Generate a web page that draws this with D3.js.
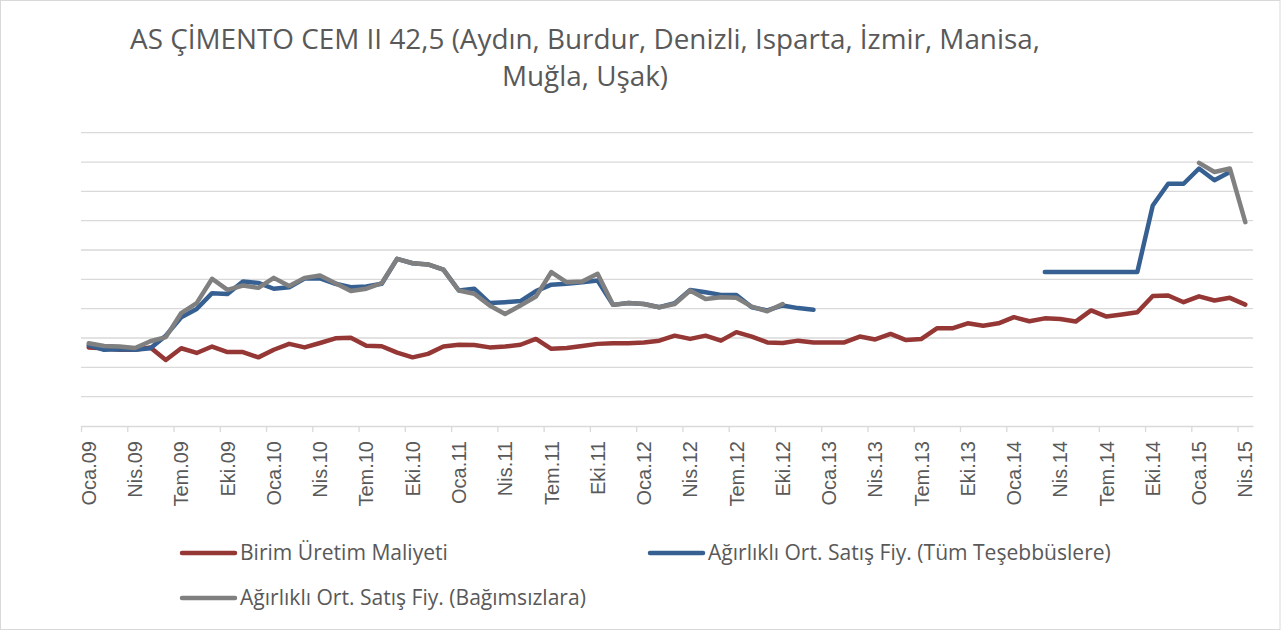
<!DOCTYPE html>
<html><head><meta charset="utf-8">
<script src="https://cdn.jsdelivr.net/npm/d3@7"></script>
<style>body{margin:0;background:#fff}</style>
</head><body><svg id="c" width="1284" height="631"></svg>
<script>
const categories = [
"Oca.09","Şub.09","Mar.09","Nis.09","May.09","Haz.09","Tem.09","Ağu.09","Eyl.09","Eki.09","Kas.09","Ara.09",
"Oca.10","Şub.10","Mar.10","Nis.10","May.10","Haz.10","Tem.10","Ağu.10","Eyl.10","Eki.10","Kas.10","Ara.10",
"Oca.11","Şub.11","Mar.11","Nis.11","May.11","Haz.11","Tem.11","Ağu.11","Eyl.11","Eki.11","Kas.11","Ara.11",
"Oca.12","Şub.12","Mar.12","Nis.12","May.12","Haz.12","Tem.12","Ağu.12","Eyl.12","Eki.12","Kas.12","Ara.12",
"Oca.13","Şub.13","Mar.13","Nis.13","May.13","Haz.13","Tem.13","Ağu.13","Eyl.13","Eki.13","Kas.13","Ara.13",
"Oca.14","Şub.14","Mar.14","Nis.14","May.14","Haz.14","Tem.14","Ağu.14","Eyl.14","Eki.14","Kas.14","Ara.14",
"Oca.15","Şub.15","Mar.15","Nis.15"];
const tickLabels = ["Oca.09","Nis.09","Tem.09","Eki.09","Oca.10","Nis.10","Tem.10","Eki.10","Oca.11","Nis.11","Tem.11","Eki.11",
"Oca.12","Nis.12","Tem.12","Eki.12","Oca.13","Nis.13","Tem.13","Eki.13","Oca.14","Nis.14","Tem.14","Eki.14","Oca.15","Nis.15"];

const cost = [2.68,2.65,2.6,2.6,2.68,2.25,2.65,2.49,2.71,2.52,2.52,2.34,
2.6,2.8,2.68,2.83,2.99,3.01,2.74,2.72,2.5,2.34,2.46,2.71,
2.77,2.76,2.68,2.71,2.77,2.97,2.63,2.66,2.73,2.8,2.82,2.82,
2.85,2.91,3.08,2.97,3.08,2.91,3.2,3.05,2.85,2.83,2.91,2.85,
2.85,2.85,3.05,2.95,3.14,2.93,2.97,3.33,3.33,3.5,3.42,3.5,
3.71,3.57,3.67,3.65,3.56,3.94,3.73,3.8,3.88,4.43,4.45,4.22,
4.42,4.28,4.37,4.14];
const priceAll = [2.75,2.6,2.62,2.6,2.65,3.08,3.71,3.99,4.53,4.5,4.93,4.88,
4.68,4.73,5.03,5.03,4.85,4.73,4.76,4.85,5.7,5.55,5.51,5.33,
4.62,4.68,4.19,4.22,4.26,4.6,4.82,4.85,4.9,4.96,4.13,4.19,
4.16,4.05,4.19,4.64,4.56,4.47,4.47,4.05,3.94,4.11,4.02,3.96,
null,null,null,null,null,null,null,null,null,null,null,null,
null,null,5.25,5.25,5.25,5.25,5.25,5.25,5.25,7.52,8.26,8.26,
8.78,8.38,8.66,null];
const priceIndep = [2.82,2.73,2.71,2.66,2.89,3.03,3.85,4.19,5.02,4.64,4.79,4.71,
5.05,4.77,5.05,5.13,4.87,4.6,4.68,4.87,5.7,5.55,5.51,5.33,
4.62,4.51,4.11,3.82,4.11,4.41,5.25,4.9,4.93,5.19,4.13,4.19,
4.16,4.05,4.16,4.62,4.33,4.39,4.37,4.07,3.91,4.16,null,null,
null,null,null,null,null,null,null,null,null,null,null,null,
null,null,null,null,null,null,null,null,null,null,null,null,
8.97,8.66,8.78,6.95];

const seriesNames = ["Birim Üretim Maliyeti","Ağırlıklı Ort. Satış Fiy. (Tüm Teşebbüslere)","Ağırlıklı Ort. Satış Fiy. (Bağımsızlara)"];
const seriesColors = ["#953735","#376092","#808080"];
const titleLines = ["AS ÇİMENTO CEM II 42,5 (Aydın, Burdur, Denizli, Isparta, İzmir, Manisa,","Muğla, Uşak)"];

(function(){
const svg = d3.select("#c");
const pLeft = 81, pRight = 1253, pTop = 132.7, pBottom = 426;
const textColor = "#595959";
const gridColor = "#d9d9d9";

svg.append("rect").attr("x",0.5).attr("y",0.5).attr("width",1279.5).attr("height",629)
  .attr("fill","#fff").attr("stroke",gridColor).attr("stroke-width",1);

const x = d3.scaleLinear().domain([0, categories.length]).range([pLeft, pRight]);
const y = d3.scaleLinear().domain([0, 10]).range([pBottom, pTop]);

svg.append("g").selectAll("line").data(y.ticks(10).filter(d=>d>0)).join("line")
  .attr("x1",pLeft).attr("x2",pRight).attr("y1",d=>y(d)).attr("y2",d=>y(d))
  .attr("stroke",gridColor).attr("stroke-width",1.3);

const tickIdx = tickLabels.map(t => categories.indexOf(t));
const ax = svg.append("g").attr("transform",`translate(0,${pBottom})`)
  .call(d3.axisBottom(x).tickValues(tickIdx).tickSize(6).tickSizeOuter(0).tickFormat(""));
ax.select(".domain").attr("stroke",gridColor).attr("stroke-width",1.3);
ax.selectAll(".tick line").attr("stroke",gridColor).attr("stroke-width",1.3);

svg.append("g").selectAll("text").data(tickIdx).join("text")
  .attr("transform",d=>`translate(${x(d+0.5)},${pBottom+15}) rotate(-90)`)
  .attr("text-anchor","end").attr("dy","0.36em")
  .attr("font-family","'Liberation Sans', Arial, sans-serif").attr("font-size",20)
  .attr("fill",textColor)
  .text(d=>categories[d]);

const line = d3.line().defined(d=>d!=null).x((d,i)=>x(i+0.5)).y(d=>y(d));
[cost, priceAll, priceIndep].forEach((s,k)=>{
  svg.append("path").datum(s).attr("d",line).attr("fill","none")
    .attr("stroke",seriesColors[k]).attr("stroke-width",4.5)
    .attr("stroke-linejoin","round").attr("stroke-linecap","round");
});

const fitText = (sel, target) => {
  const w = sel.node().getComputedTextLength();
  const fs = parseFloat(sel.attr("font-size"));
  sel.attr("font-size", fs*target/w);
  return fs*target/w;
};
const tFont = "'Open Sans', sans-serif";
const t1 = svg.append("text").attr("x",585).attr("y",49).attr("text-anchor","middle")
  .attr("font-family",tFont).attr("font-size",24).attr("fill",textColor).text(titleLines[0]);
const tfs = fitText(t1, 910);
svg.append("text").attr("x",585).attr("y",86).attr("text-anchor","middle")
  .attr("font-family",tFont).attr("font-size",tfs).attr("fill",textColor).text(titleLines[1]);

const legendPos = [[182,553],[650,553],[182,598]];
let lfs = null;
seriesNames.forEach((n,k)=>{
  const [lx,ly] = legendPos[k];
  svg.append("line").attr("x1",lx).attr("x2",lx+53).attr("y1",ly).attr("y2",ly)
    .attr("stroke",seriesColors[k]).attr("stroke-width",4.5).attr("stroke-linecap","round");
  const t = svg.append("text").attr("x",lx+58).attr("y",ly).attr("dy","0.35em")
    .attr("font-family",tFont).attr("font-size",lfs||18).attr("fill",textColor).text(n);
  if (k===0) lfs = fitText(t, 208);
});
})();
</script>
</body></html>
